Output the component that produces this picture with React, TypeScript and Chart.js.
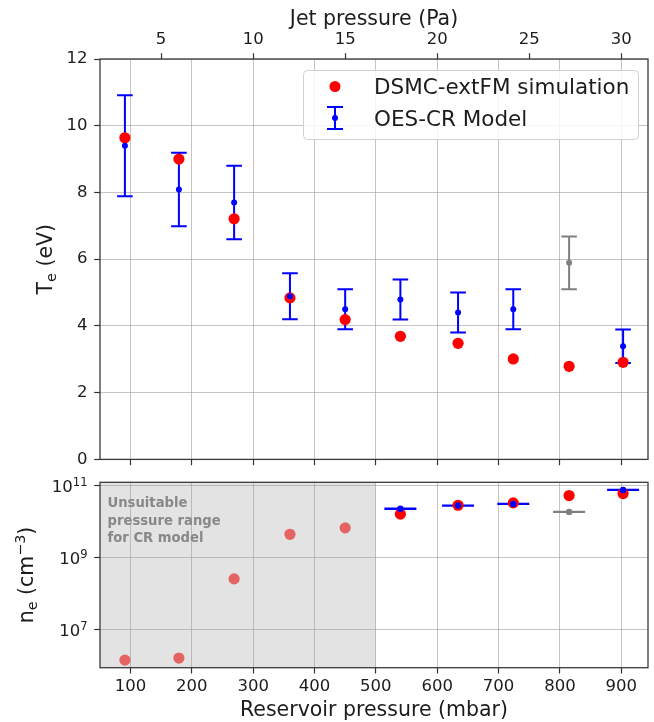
import React, { useEffect, useRef } from 'react';
import { Chart, registerables } from 'chart.js';

Chart.register(...registerables);

// ---------------- data ----------------
const reservoirPressure = [91, 179, 269, 360, 450, 540, 634, 724, 815, 903]; // mbar
const teDsmc = [9.64, 9.0, 7.21, 4.84, 4.19, 3.69, 3.48, 3.01, 2.79, 2.91]; // eV
const teOes = [9.4, 8.09, 7.7, 4.89, 4.5, 4.79, 4.4, 4.5, 5.89, 3.39]; // eV
const teOesErr = [1.51, 1.1, 1.1, 0.69, 0.6, 0.6, 0.6, 0.6, 0.79, 0.5]; // eV
const neDsmc = [1.4e6, 1.6e6, 2.5e8, 4.3e9, 6.5e9, 1.56e10, 2.75e10, 3.2e10, 5.1e10, 5.8e10]; // cm^-3
const neOes = [null, null, null, null, null, 2.2e10, 2.7e10, 3.0e10, 1.8e10, 7.3e10]; // cm^-3
const oesOutlier = [false, false, false, false, false, false, false, false, true, false];
const unsuitableLimit = 500; // mbar
const mbarPerPa = 30;
const reservoirTicks = [100, 200, 300, 400, 500, 600, 700, 800, 900];
const jetTicks = [5, 10, 15, 20, 25, 30];
const teTicks = [0, 2, 4, 6, 8, 10, 12];
const neTickExponents = [7, 9, 11];
const unsuitableText = ['Unsuitable', 'pressure range', 'for CR model'];

// ---------------- styles ----------------
const X_MIN = 50.4;
const X_MAX = 943.6;
const NE_MIN = 8.63e5;
const NE_MAX = 1.19e11;
const FONT = '"DejaVu Sans", sans-serif';
const TICK_SIZE = 16.5;
const TITLE_SIZE = 20.5;
const LEGEND_SIZE = 21.5;
const TEXT = '#1c1c1c';
const GRID = 'rgba(160,160,160,0.62)';
const FRAME = '#3a3a3a';
const RED = '#ff0000';
const FADED_RED = '#e46464';
const BLUE = '#0000ff';
const GRAY = '#808080';
const SPAN = '#e3e3e3';

type Part = { t: string; size: number; dy?: number; bold?: boolean };

function setFont(ctx: CanvasRenderingContext2D, p: Part) {
  ctx.font = `${p.bold ? 'bold ' : ''}${p.size}px ${FONT}`;
}
function partsWidth(ctx: CanvasRenderingContext2D, parts: Part[]) {
  let w = 0;
  for (const p of parts) {
    setFont(ctx, p);
    w += ctx.measureText(p.t).width;
  }
  return w;
}
function drawParts(ctx: CanvasRenderingContext2D, parts: Part[], x: number, y: number) {
  let cx = x;
  ctx.textAlign = 'left';
  ctx.textBaseline = 'alphabetic';
  for (const p of parts) {
    setFont(ctx, p);
    ctx.fillText(p.t, cx, y + (p.dy || 0));
    cx += ctx.measureText(p.t).width;
  }
}
function drawCentered(ctx: CanvasRenderingContext2D, parts: Part[], cx: number, base: number, rotate: boolean) {
  const w = partsWidth(ctx, parts);
  ctx.save();
  ctx.fillStyle = TEXT;
  ctx.translate(cx, base);
  if (rotate) ctx.rotate(-Math.PI / 2);
  drawParts(ctx, parts, -w / 2, 0);
  ctx.restore();
}

const tickFont = { family: FONT, size: TICK_SIZE };
const gridBase = {
  color: GRID,
  lineWidth: 1,
  tickColor: '#333333',
  tickLength: 5.8,
  tickWidth: 1.2,
  drawTicks: true,
};
const setTicks = (values: number[]) => (s: any) => {
  s.ticks = values.map((v) => ({ value: v }));
};

function drawFrame(chart: any) {
  const { ctx, chartArea: a } = chart;
  ctx.save();
  ctx.strokeStyle = FRAME;
  ctx.lineWidth = 1.3;
  ctx.strokeRect(a.left, a.top, a.right - a.left, a.bottom - a.top);
  ctx.restore();
}

const topPlugin = {
  id: 'topPanel',
  beforeDatasetsDraw(chart: any) {
    const { ctx, scales } = chart;
    const x = scales.x;
    const y = scales.y;
    ctx.save();
    ctx.lineWidth = 2;
    reservoirPressure.forEach((p, i) => {
      const px = x.getPixelForValue(p);
      const t = y.getPixelForValue(teOes[i] + teOesErr[i]);
      const b = y.getPixelForValue(teOes[i] - teOesErr[i]);
      ctx.strokeStyle = oesOutlier[i] ? GRAY : BLUE;
      ctx.beginPath();
      ctx.moveTo(px, t);
      ctx.lineTo(px, b);
      ctx.moveTo(px - 7.8, t);
      ctx.lineTo(px + 7.8, t);
      ctx.moveTo(px - 7.8, b);
      ctx.lineTo(px + 7.8, b);
      ctx.stroke();
    });
    ctx.restore();
  },
  afterDraw(chart: any) {
    const { ctx, chartArea: a } = chart;
    drawFrame(chart);
    // axis titles
    drawCentered(ctx, [{ t: 'Jet pressure (Pa)', size: TITLE_SIZE }], (a.left + a.right) / 2, 25, false);
    drawCentered(
      ctx,
      [
        { t: 'T', size: TITLE_SIZE },
        { t: 'e', size: TITLE_SIZE * 0.7, dy: 4 },
        { t: ' (eV)', size: TITLE_SIZE },
      ],
      52,
      (a.top + a.bottom) / 2,
      true
    );
    // legend
    const lx = 303, ly = 70, lw = 335, lh = 69;
    ctx.save();
    ctx.beginPath();
    ctx.roundRect(lx + 0.5, ly + 0.5, lw, lh, 4);
    ctx.fillStyle = 'rgba(255,255,255,0.85)';
    ctx.fill();
    ctx.strokeStyle = '#d0d0d0';
    ctx.lineWidth = 1;
    ctx.stroke();
    ctx.fillStyle = RED;
    ctx.beginPath();
    ctx.arc(335, 86.5, 5.5, 0, Math.PI * 2);
    ctx.fill();
    ctx.strokeStyle = BLUE;
    ctx.lineWidth = 2;
    ctx.beginPath();
    ctx.moveTo(335, 107);
    ctx.lineTo(335, 129);
    ctx.moveTo(327, 107);
    ctx.lineTo(343, 107);
    ctx.moveTo(327, 129);
    ctx.lineTo(343, 129);
    ctx.stroke();
    ctx.fillStyle = BLUE;
    ctx.beginPath();
    ctx.arc(335, 118, 3, 0, Math.PI * 2);
    ctx.fill();
    ctx.fillStyle = TEXT;
    drawParts(ctx, [{ t: 'DSMC-extFM simulation', size: LEGEND_SIZE }], 374, 94);
    drawParts(ctx, [{ t: 'OES-CR Model', size: LEGEND_SIZE }], 374, 125.5);
    ctx.restore();
  },
};

const bottomPlugin = {
  id: 'bottomPanel',
  beforeDraw(chart: any) {
    const { ctx, chartArea: a, scales } = chart;
    const xr = scales.x.getPixelForValue(unsuitableLimit);
    ctx.save();
    ctx.fillStyle = SPAN;
    ctx.fillRect(a.left, a.top, xr - a.left, a.bottom - a.top);
    ctx.restore();
  },
  beforeDatasetsDraw(chart: any) {
    const { ctx, chartArea: a, scales } = chart;
    const x = scales.x;
    const y = scales.y;
    ctx.save();
    ctx.fillStyle = '#888888';
    unsuitableText.forEach((line, i) => {
      drawParts(ctx, [{ t: line, size: 13.2, bold: true }], a.left + 7.5, a.top + 25 + i * 17.2);
    });
    ctx.lineWidth = 2.3;
    reservoirPressure.forEach((p, i) => {
      const v = neOes[i];
      if (v == null) return;
      const px = x.getPixelForValue(p);
      const py = y.getPixelForValue(v);
      ctx.strokeStyle = oesOutlier[i] ? GRAY : BLUE;
      ctx.beginPath();
      ctx.moveTo(px - 16, py);
      ctx.lineTo(px + 16, py);
      ctx.stroke();
    });
    ctx.restore();
  },
  afterDraw(chart: any) {
    const { ctx, chartArea: a, scales } = chart;
    drawFrame(chart);
    const y = scales.y;
    ctx.save();
    ctx.fillStyle = TEXT;
    neTickExponents.forEach((e) => {
      const py = y.getPixelForValue(Math.pow(10, e));
      const parts: Part[] = [
        { t: '10', size: TICK_SIZE, dy: 6.5 },
        { t: String(e), size: TICK_SIZE * 0.7, dy: 0.5 },
      ];
      const w = partsWidth(ctx, parts);
      drawParts(ctx, parts, 87.5 - w, py);
    });
    ctx.restore();
    drawCentered(ctx, [{ t: 'Reservoir pressure (mbar)', size: TITLE_SIZE }], (a.left + a.right) / 2, 240, false);
    drawCentered(
      ctx,
      [
        { t: 'n', size: TITLE_SIZE },
        { t: 'e', size: TITLE_SIZE * 0.7, dy: 4 },
        { t: ' (cm', size: TITLE_SIZE },
        { t: '\u22123', size: TITLE_SIZE * 0.7, dy: -8 },
        { t: ')', size: TITLE_SIZE },
      ],
      33,
      (a.top + a.bottom) / 2,
      true
    );
  },
};

export default function App() {
  const topRef = useRef<HTMLCanvasElement | null>(null);
  const bottomRef = useRef<HTMLCanvasElement | null>(null);

  useEffect(() => {
    const top = new Chart(topRef.current as HTMLCanvasElement, {
      type: 'scatter',
      data: {
        datasets: [
          {
            label: 'OES-CR Model',
            data: reservoirPressure.map((p, i) => ({ x: p, y: teOes[i] })),
            pointRadius: 3,
            pointBorderWidth: 0,
            pointBackgroundColor: reservoirPressure.map((_, i) => (oesOutlier[i] ? GRAY : BLUE)),
            order: 1,
          },
          {
            label: 'DSMC-extFM simulation',
            data: reservoirPressure.map((p, i) => ({ x: p, y: teDsmc[i] })),
            pointRadius: 5.6,
            pointBorderWidth: 0,
            pointBackgroundColor: RED,
            order: 2,
          },
        ],
      },
      options: {
        animation: false,
        responsive: false,
        events: [],
        layout: { padding: { left: 0, right: 6, top: 0, bottom: 0 } },
        plugins: { legend: { display: false }, tooltip: { enabled: false } },
        scales: {
          x: {
            type: 'linear',
            position: 'bottom',
            min: X_MIN,
            max: X_MAX,
            afterBuildTicks: setTicks(reservoirTicks),
            afterFit: (s: any) => {
              s.height = 12.5;
            },
            ticks: { display: false },
            grid: { ...gridBase },
            border: { display: false },
          },
          x2: {
            type: 'linear',
            position: 'top',
            min: X_MIN / mbarPerPa,
            max: X_MAX / mbarPerPa,
            afterBuildTicks: setTicks(jetTicks),
            afterFit: (s: any) => {
              s.height = 59;
            },
            ticks: { font: tickFont, color: TEXT, padding: 3.5, maxRotation: 0, autoSkip: false },
            grid: { ...gridBase, drawOnChartArea: false },
            border: { display: false },
          },
          y: {
            type: 'linear',
            position: 'left',
            min: 0,
            max: 12,
            afterBuildTicks: setTicks(teTicks),
            afterFit: (s: any) => {
              s.width = 100;
            },
            ticks: { font: tickFont, color: TEXT, padding: 6.7, autoSkip: false },
            grid: { ...gridBase },
            border: { display: false },
          },
        },
      } as any,
      plugins: [topPlugin],
    });

    const oesIdx = reservoirPressure.map((_, i) => i).filter((i) => neOes[i] != null);
    const bottom = new Chart(bottomRef.current as HTMLCanvasElement, {
      type: 'scatter',
      data: {
        datasets: [
          {
            label: 'OES-CR Model',
            data: oesIdx.map((i) => ({ x: reservoirPressure[i], y: neOes[i] as number })),
            pointRadius: 3.2,
            pointBorderWidth: 0,
            pointBackgroundColor: oesIdx.map((i) => (oesOutlier[i] ? GRAY : BLUE)),
            order: 1,
          },
          {
            label: 'DSMC-extFM simulation',
            data: reservoirPressure.map((p, i) => ({ x: p, y: neDsmc[i] })),
            pointRadius: 5.6,
            pointBorderWidth: 0,
            pointBackgroundColor: reservoirPressure.map((p) => (p < unsuitableLimit ? FADED_RED : RED)),
            order: 2,
          },
        ],
      },
      options: {
        animation: false,
        responsive: false,
        events: [],
        layout: { padding: { left: 0, right: 6, top: 6.3, bottom: 0 } },
        plugins: { legend: { display: false }, tooltip: { enabled: false } },
        scales: {
          x: {
            type: 'linear',
            position: 'bottom',
            min: X_MIN,
            max: X_MAX,
            afterBuildTicks: setTicks(reservoirTicks),
            afterFit: (s: any) => {
              s.height = 54.3;
            },
            ticks: { font: tickFont, color: TEXT, padding: 3.5, maxRotation: 0, autoSkip: false },
            grid: { ...gridBase },
            border: { display: false },
          },
          y: {
            type: 'logarithmic',
            position: 'left',
            min: NE_MIN,
            max: NE_MAX,
            afterBuildTicks: setTicks(neTickExponents.map((e) => Math.pow(10, e))),
            afterFit: (s: any) => {
              s.width = 100;
            },
            ticks: { display: false },
            grid: { ...gridBase },
            border: { display: false },
          },
        },
      } as any,
      plugins: [bottomPlugin],
    });

    return () => {
      top.destroy();
      bottom.destroy();
    };
  }, []);

  return (
    <div style={{ position: 'absolute', left: 0, top: 0, width: 654, height: 722, background: '#fff' }}>
      <canvas ref={topRef} width={654} height={476} style={{ position: 'absolute', left: 0, top: 0 }} />
      <canvas ref={bottomRef} width={654} height={246} style={{ position: 'absolute', left: 0, top: 476 }} />
    </div>
  );
}
